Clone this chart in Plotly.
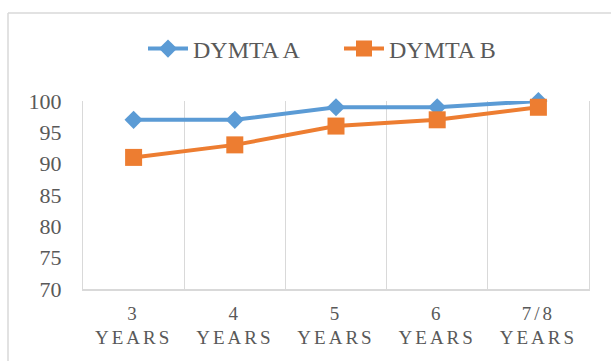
import plotly.graph_objects as go

# Data
categories = ["3 YEARS", "4 YEARS", "5 YEARS", "6 YEARS", "7/8 YEARS"]
tick_labels = ["3<br>YEARS", "4<br>YEARS", "5<br>YEARS", "6<br>YEARS", "7/8<br>YEARS"]
series_names = ["DYMTA A", "DYMTA B"]
dymta_a = [97, 97, 99, 99, 100]
dymta_b = [91, 93, 96, 97, 99]

BLUE = "#5B9BD5"
ORANGE = "#ED7D31"
GRID = "#D9D9D9"
TEXT = "#595959"
FONT = "Liberation Serif"

W, H = 611, 361
ML, MR, MT, MB = 83, 22, 101, 72

fig = go.Figure()
fig.add_trace(go.Scatter(
    x=categories, y=dymta_a, name=series_names[0], mode="lines+markers",
    line=dict(color=BLUE, width=4),
    marker=dict(symbol="diamond", size=14, color=BLUE),
    cliponaxis=False,
))
fig.add_trace(go.Scatter(
    x=categories, y=dymta_b, name=series_names[1], mode="lines+markers",
    line=dict(color=ORANGE, width=4),
    marker=dict(symbol="square", size=17, color=ORANGE),
    cliponaxis=False,
))

# chart-area frame (top and left edges), expressed in paper units
pw, ph = W - ML - MR, H - MT - MB
def px_x(p):
    return (p - ML) / pw
def px_y(p):
    return 1 - (p - MT) / ph

fig.add_shape(type="line", xref="paper", yref="paper",
              x0=px_x(8), x1=px_x(W + 5), y0=px_y(13), y1=px_y(13),
              line=dict(color=GRID, width=1.5))
fig.add_shape(type="line", xref="paper", yref="paper",
              x0=px_x(8), x1=px_x(8), y0=px_y(13), y1=px_y(H + 5),
              line=dict(color=GRID, width=1.5))

fig.update_layout(
    width=W, height=H, autosize=False,
    margin=dict(l=ML, r=MR, t=MT, b=MB),
    paper_bgcolor="white", plot_bgcolor="white",
    font=dict(family=FONT, color=TEXT),
    showlegend=True,
    legend=dict(
        orientation="h", xref="container", x=143 / W, xanchor="left",
        yref="container", y=1 - 49 / H, yanchor="middle",
        font=dict(size=24, color=TEXT, family=FONT),
        itemwidth=40, entrywidth=141, entrywidthmode="pixels",
        bgcolor="rgba(0,0,0,0)",
    ),
    xaxis=dict(
        type="category", categoryorder="array", categoryarray=categories,
        tickmode="array", tickvals=categories, ticktext=tick_labels,
        range=[-0.5, 4.5], tickson="boundaries",
        showgrid=True, gridcolor=GRID, gridwidth=1,
        showline=True, linecolor=GRID, linewidth=1.5,
        ticks="", ticklabelstandoff=6,
        tickfont=dict(size=19, color=TEXT, family=FONT),
        zeroline=False, fixedrange=True,
    ),
    yaxis=dict(
        range=[70, 100], tickmode="array", tickvals=[70, 75, 80, 85, 90, 95, 100],
        showgrid=False, zeroline=False,
        showline=True, mirror=True, linecolor=GRID, linewidth=1,
        ticks="", ticklabelstandoff=16,
        tickfont=dict(size=22, color=TEXT, family=FONT),
        fixedrange=True,
    ),
)

# spaced capitals on the category labels
post = """
var s = document.createElement('style');
s.textContent = '.xtick text { letter-spacing: 3px; }';
document.head.appendChild(s);
"""

fig.write_html("out.html", config={"displayModeBar": False, "responsive": False},
               post_script=post)
